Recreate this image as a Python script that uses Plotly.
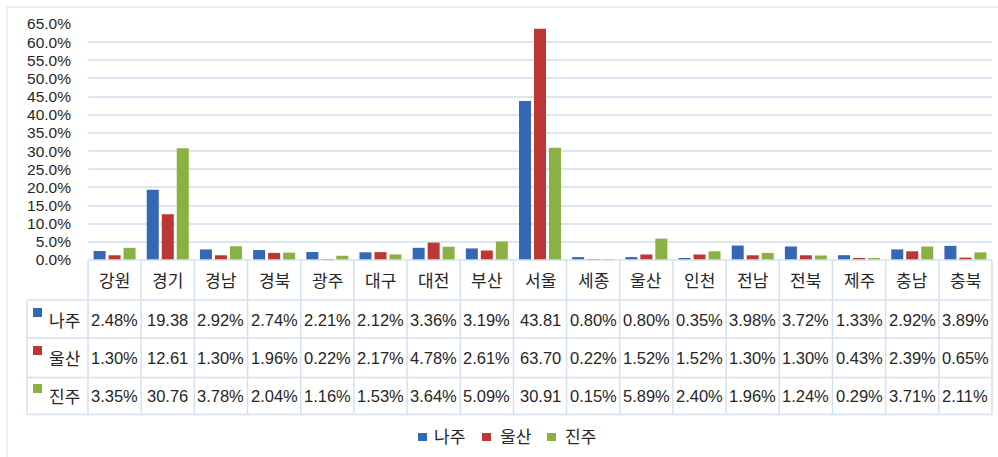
import plotly.graph_objects as go

# Region categories and share of respondents (%) for each city
regions = ["강원", "경기", "경남", "경북", "광주", "대구", "대전", "부산", "서울",
           "세종", "울산", "인천", "전남", "전북", "제주", "충남", "충북"]
naju = [2.48, 19.38, 2.92, 2.74, 2.21, 2.12, 3.36, 3.19, 43.81,
        0.80, 0.80, 0.35, 3.98, 3.72, 1.33, 2.92, 3.89]
ulsan = [1.30, 12.61, 1.30, 1.96, 0.22, 2.17, 4.78, 2.61, 63.70,
         0.22, 1.52, 1.52, 1.30, 1.30, 0.43, 2.39, 0.65]
jinju = [3.35, 30.76, 3.78, 2.04, 1.16, 1.53, 3.64, 5.09, 30.91,
         0.15, 5.89, 2.40, 1.96, 1.24, 0.29, 3.71, 2.11]
series_names = ["나주", "울산", "진주"]
y_ticks = [0, 5, 10, 15, 20, 25, 30, 35, 40, 45, 50, 55, 60, 65]

colors = ["#3568b4", "#bb3634", "#8bb043"]
series_values = [naju, ulsan, jinju]

W, H = 998, 457
L, R, T, B = 88, 6, 24, 197
plot_w = W - L - R
plot_h = H - T - B
bottom_px = H - B  # pixel row of the value axis baseline

FONT = "Liberation Sans, Noto Sans CJK KR, sans-serif"
TXT = "#262626"
LINE = "#d5e0ee"


def px_x(px):
    return (px - L) / plot_w


def px_y(py):
    return (bottom_px - py) / plot_h


def cell_text(v):
    # narrow cells show large shares without the percent sign
    return f"{v:.2f}" if v >= 10 else f"{v:.2f}%"


fig = go.Figure()
for name, vals, col in zip(series_names, series_values, colors):
    fig.add_trace(go.Bar(x=regions, y=vals, name=name, marker_color=col,
                         marker_line_width=0, showlegend=False))

shapes = []
annotations = []
n = len(regions)

# outer chart frame
shapes.append(dict(type="rect", xref="paper", yref="paper",
                   x0=px_x(7), x1=px_x(1002), y0=px_y(7), y1=px_y(470),
                   line=dict(color="#dde2e8", width=1), layer="below"))

# data table grid
row_lines = [300, 338, 377.5, 414.5]
table_left = 27
shapes.append(dict(type="line", xref="paper", yref="paper",
                   x0=0, x1=1, y0=0, y1=0, line=dict(color=LINE, width=1.5)))
for ry in row_lines:
    shapes.append(dict(type="line", xref="paper", yref="paper",
                       x0=px_x(table_left), x1=1, y0=px_y(ry), y1=px_y(ry),
                       line=dict(color=LINE, width=1.5)))
for i in range(n + 1):
    shapes.append(dict(type="line", xref="paper", yref="paper",
                       x0=i / n, x1=i / n, y0=0, y1=px_y(row_lines[-1]),
                       line=dict(color=LINE, width=1.5)))
shapes.append(dict(type="line", xref="paper", yref="paper",
                   x0=px_x(table_left), x1=px_x(table_left),
                   y0=px_y(row_lines[0]), y1=px_y(row_lines[-1]),
                   line=dict(color=LINE, width=1.5)))

# category header row
for r in regions:
    annotations.append(dict(x=r, xref="x", y=0, yref="paper", yshift=-(281 - bottom_px),
                            text=r, showarrow=False, yanchor="middle",
                            font=dict(family=FONT, size=17, color=TXT)))

# series rows with legend keys
row_centers = [320, 358, 396]
for name, vals, col, cy in zip(series_names, series_values, colors, row_centers):
    shapes.append(dict(type="rect", xref="paper", yref="paper",
                       x0=px_x(33), x1=px_x(42), y0=px_y(cy - 12), y1=px_y(cy - 3),
                       fillcolor=col, line=dict(width=0)))
    annotations.append(dict(x=px_x(47), xref="paper", y=0, yref="paper",
                            yshift=-(cy + 1 - bottom_px), xanchor="left",
                            text=name, showarrow=False, yanchor="middle",
                            font=dict(family=FONT, size=17, color=TXT)))
    for r, v in zip(regions, vals):
        annotations.append(dict(x=r, xref="x", y=0, yref="paper", yshift=-(cy - bottom_px),
                                text=cell_text(v), showarrow=False, yanchor="middle",
                                font=dict(family=FONT, size=16.5, color=TXT)))

# bottom legend
legend_items = [(418, 432), (482, 498), (547, 563)]
for (kx, tx), name, col in zip(legend_items, series_names, colors):
    shapes.append(dict(type="rect", xref="paper", yref="paper",
                       x0=px_x(kx), x1=px_x(kx + 9), y0=px_y(433), y1=px_y(441),
                       fillcolor=col, line=dict(width=0)))
    annotations.append(dict(x=px_x(tx), xref="paper", y=0, yref="paper",
                            yshift=-(437 - bottom_px), xanchor="left",
                            text=name, showarrow=False, yanchor="middle",
                            font=dict(family=FONT, size=17, color=TXT)))

fig.update_layout(
    width=W, height=H,
    margin=dict(l=L, r=R, t=T, b=B, pad=0),
    paper_bgcolor="white", plot_bgcolor="white",
    barmode="group", bargap=0.154, bargroupgap=0.2,
    shapes=shapes, annotations=annotations,
    font=dict(family=FONT, color=TXT),
)
fig.update_xaxes(showticklabels=False, showgrid=False, zeroline=False,
                 showline=False, ticks="")
fig.update_yaxes(range=[0, 65], tickvals=y_ticks,
                 ticktext=[f"{v:.1f}%" for v in y_ticks],
                 showgrid=True, gridcolor="#dce6f2", gridwidth=1.5,
                 zeroline=False, showline=False, ticks="",
                 ticklabelstandoff=16,
                 tickfont=dict(family=FONT, size=15.5, color=TXT))

fig.write_html("out.html")
